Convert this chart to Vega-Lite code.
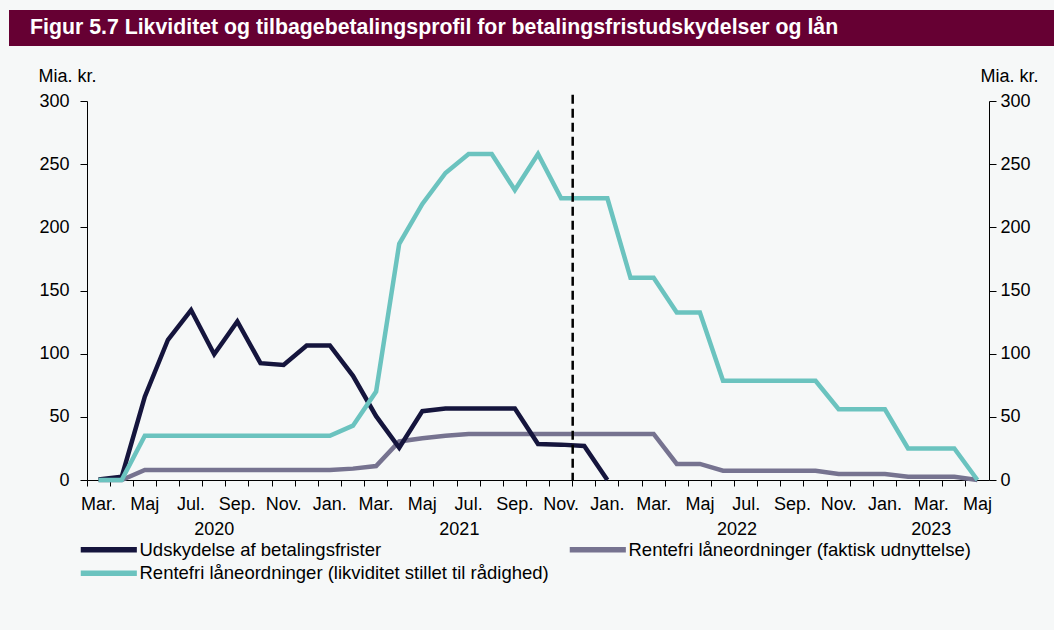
{
  "$schema": "https://vega.github.io/schema/vega-lite/v6.json",
  "background": "#f6f8f8",
  "padding": {"left": 9, "top": 10, "right": 0, "bottom": 45},
  "config": {
    "font": "Liberation Sans",
    "view": {"stroke": null}
  },
  "spacing": 21,
  "vconcat": [
    {
      "width": 1045,
      "height": 36,
      "view": {"fill": "#660033", "stroke": null},
      "data": {"values": [{"pos": 0, "label": "Figur 5.7 Likviditet og tilbagebetalingsprofil for betalingsfristudskydelser og lån"}]},
      "mark": {"type": "text", "align": "left", "baseline": "middle", "dx": 21, "fontSize": 21.3, "fontWeight": "bold", "color": "#ffffff"},
      "encoding": {
        "x": {"field": "pos", "type": "quantitative", "scale": {"domain": [0, 1]}, "axis": null},
        "text": {"field": "label"}
      }
    },
    {
      "spacing": 28,
      "hconcat": [
        {"width": 1, "height": 1, "data": {"values": []}, "mark": "point"},
        {
          "width": 902,
          "height": 379,
          "resolve": {"axis": {"x": "independent", "y": "independent"}},
          "layer": [
            {
              "data": {"values": [
                {"month":"2020-03","series":"Rentefri låneordninger (faktisk udnyttelse)","value":0},{"month":"2020-04","series":"Rentefri låneordninger (faktisk udnyttelse)","value":0},{"month":"2020-05","series":"Rentefri låneordninger (faktisk udnyttelse)","value":8},{"month":"2020-06","series":"Rentefri låneordninger (faktisk udnyttelse)","value":8},{"month":"2020-07","series":"Rentefri låneordninger (faktisk udnyttelse)","value":8},{"month":"2020-08","series":"Rentefri låneordninger (faktisk udnyttelse)","value":8},{"month":"2020-09","series":"Rentefri låneordninger (faktisk udnyttelse)","value":8},{"month":"2020-10","series":"Rentefri låneordninger (faktisk udnyttelse)","value":8},{"month":"2020-11","series":"Rentefri låneordninger (faktisk udnyttelse)","value":8},{"month":"2020-12","series":"Rentefri låneordninger (faktisk udnyttelse)","value":8},
                {"month":"2021-01","series":"Rentefri låneordninger (faktisk udnyttelse)","value":8},{"month":"2021-02","series":"Rentefri låneordninger (faktisk udnyttelse)","value":9},{"month":"2021-03","series":"Rentefri låneordninger (faktisk udnyttelse)","value":11},{"month":"2021-04","series":"Rentefri låneordninger (faktisk udnyttelse)","value":30.5},{"month":"2021-05","series":"Rentefri låneordninger (faktisk udnyttelse)","value":33},{"month":"2021-06","series":"Rentefri låneordninger (faktisk udnyttelse)","value":35},{"month":"2021-07","series":"Rentefri låneordninger (faktisk udnyttelse)","value":36.5},{"month":"2021-08","series":"Rentefri låneordninger (faktisk udnyttelse)","value":36.5},{"month":"2021-09","series":"Rentefri låneordninger (faktisk udnyttelse)","value":36.5},{"month":"2021-10","series":"Rentefri låneordninger (faktisk udnyttelse)","value":36.5},{"month":"2021-11","series":"Rentefri låneordninger (faktisk udnyttelse)","value":36.5},{"month":"2021-12","series":"Rentefri låneordninger (faktisk udnyttelse)","value":36.5},
                {"month":"2022-01","series":"Rentefri låneordninger (faktisk udnyttelse)","value":36.5},{"month":"2022-02","series":"Rentefri låneordninger (faktisk udnyttelse)","value":36.5},{"month":"2022-03","series":"Rentefri låneordninger (faktisk udnyttelse)","value":36.5},{"month":"2022-04","series":"Rentefri låneordninger (faktisk udnyttelse)","value":12.7},{"month":"2022-05","series":"Rentefri låneordninger (faktisk udnyttelse)","value":12.7},{"month":"2022-06","series":"Rentefri låneordninger (faktisk udnyttelse)","value":7.4},{"month":"2022-07","series":"Rentefri låneordninger (faktisk udnyttelse)","value":7.4},{"month":"2022-08","series":"Rentefri låneordninger (faktisk udnyttelse)","value":7.4},{"month":"2022-09","series":"Rentefri låneordninger (faktisk udnyttelse)","value":7.4},{"month":"2022-10","series":"Rentefri låneordninger (faktisk udnyttelse)","value":7.4},{"month":"2022-11","series":"Rentefri låneordninger (faktisk udnyttelse)","value":4.7},{"month":"2022-12","series":"Rentefri låneordninger (faktisk udnyttelse)","value":4.7},
                {"month":"2023-01","series":"Rentefri låneordninger (faktisk udnyttelse)","value":4.7},{"month":"2023-02","series":"Rentefri låneordninger (faktisk udnyttelse)","value":2.6},{"month":"2023-03","series":"Rentefri låneordninger (faktisk udnyttelse)","value":2.6},{"month":"2023-04","series":"Rentefri låneordninger (faktisk udnyttelse)","value":2.6},{"month":"2023-05","series":"Rentefri låneordninger (faktisk udnyttelse)","value":0},
                {"month":"2020-03","series":"Udskydelse af betalingsfrister","value":0.5},{"month":"2020-04","series":"Udskydelse af betalingsfrister","value":2.5},{"month":"2020-05","series":"Udskydelse af betalingsfrister","value":66},{"month":"2020-06","series":"Udskydelse af betalingsfrister","value":111},{"month":"2020-07","series":"Udskydelse af betalingsfrister","value":134.5},{"month":"2020-08","series":"Udskydelse af betalingsfrister","value":99.5},{"month":"2020-09","series":"Udskydelse af betalingsfrister","value":125.5},{"month":"2020-10","series":"Udskydelse af betalingsfrister","value":92.5},{"month":"2020-11","series":"Udskydelse af betalingsfrister","value":91},{"month":"2020-12","series":"Udskydelse af betalingsfrister","value":106.5},
                {"month":"2021-01","series":"Udskydelse af betalingsfrister","value":106.5},{"month":"2021-02","series":"Udskydelse af betalingsfrister","value":82.5},{"month":"2021-03","series":"Udskydelse af betalingsfrister","value":50.5},{"month":"2021-04","series":"Udskydelse af betalingsfrister","value":25.5},{"month":"2021-05","series":"Udskydelse af betalingsfrister","value":54.5},{"month":"2021-06","series":"Udskydelse af betalingsfrister","value":56.5},{"month":"2021-07","series":"Udskydelse af betalingsfrister","value":56.5},{"month":"2021-08","series":"Udskydelse af betalingsfrister","value":56.5},{"month":"2021-09","series":"Udskydelse af betalingsfrister","value":56.5},{"month":"2021-10","series":"Udskydelse af betalingsfrister","value":28.5},{"month":"2021-11","series":"Udskydelse af betalingsfrister","value":28},{"month":"2021-12","series":"Udskydelse af betalingsfrister","value":27},
                {"month":"2022-01","series":"Udskydelse af betalingsfrister","value":0},
                {"month":"2020-03","series":"Rentefri låneordninger (likviditet stillet til rådighed)","value":0},{"month":"2020-04","series":"Rentefri låneordninger (likviditet stillet til rådighed)","value":0},{"month":"2020-05","series":"Rentefri låneordninger (likviditet stillet til rådighed)","value":35},{"month":"2020-06","series":"Rentefri låneordninger (likviditet stillet til rådighed)","value":35},{"month":"2020-07","series":"Rentefri låneordninger (likviditet stillet til rådighed)","value":35},{"month":"2020-08","series":"Rentefri låneordninger (likviditet stillet til rådighed)","value":35},{"month":"2020-09","series":"Rentefri låneordninger (likviditet stillet til rådighed)","value":35},{"month":"2020-10","series":"Rentefri låneordninger (likviditet stillet til rådighed)","value":35},{"month":"2020-11","series":"Rentefri låneordninger (likviditet stillet til rådighed)","value":35},{"month":"2020-12","series":"Rentefri låneordninger (likviditet stillet til rådighed)","value":35},
                {"month":"2021-01","series":"Rentefri låneordninger (likviditet stillet til rådighed)","value":35},{"month":"2021-02","series":"Rentefri låneordninger (likviditet stillet til rådighed)","value":43},{"month":"2021-03","series":"Rentefri låneordninger (likviditet stillet til rådighed)","value":70},{"month":"2021-04","series":"Rentefri låneordninger (likviditet stillet til rådighed)","value":187},{"month":"2021-05","series":"Rentefri låneordninger (likviditet stillet til rådighed)","value":218.5},{"month":"2021-06","series":"Rentefri låneordninger (likviditet stillet til rådighed)","value":243},{"month":"2021-07","series":"Rentefri låneordninger (likviditet stillet til rådighed)","value":258},{"month":"2021-08","series":"Rentefri låneordninger (likviditet stillet til rådighed)","value":258},{"month":"2021-09","series":"Rentefri låneordninger (likviditet stillet til rådighed)","value":229.5},{"month":"2021-10","series":"Rentefri låneordninger (likviditet stillet til rådighed)","value":258},{"month":"2021-11","series":"Rentefri låneordninger (likviditet stillet til rådighed)","value":223},{"month":"2021-12","series":"Rentefri låneordninger (likviditet stillet til rådighed)","value":223},
                {"month":"2022-01","series":"Rentefri låneordninger (likviditet stillet til rådighed)","value":223},{"month":"2022-02","series":"Rentefri låneordninger (likviditet stillet til rådighed)","value":160},{"month":"2022-03","series":"Rentefri låneordninger (likviditet stillet til rådighed)","value":160},{"month":"2022-04","series":"Rentefri låneordninger (likviditet stillet til rådighed)","value":132.5},{"month":"2022-05","series":"Rentefri låneordninger (likviditet stillet til rådighed)","value":132.5},{"month":"2022-06","series":"Rentefri låneordninger (likviditet stillet til rådighed)","value":78.5},{"month":"2022-07","series":"Rentefri låneordninger (likviditet stillet til rådighed)","value":78.5},{"month":"2022-08","series":"Rentefri låneordninger (likviditet stillet til rådighed)","value":78.5},{"month":"2022-09","series":"Rentefri låneordninger (likviditet stillet til rådighed)","value":78.5},{"month":"2022-10","series":"Rentefri låneordninger (likviditet stillet til rådighed)","value":78.5},{"month":"2022-11","series":"Rentefri låneordninger (likviditet stillet til rådighed)","value":56},{"month":"2022-12","series":"Rentefri låneordninger (likviditet stillet til rådighed)","value":56},
                {"month":"2023-01","series":"Rentefri låneordninger (likviditet stillet til rådighed)","value":56},{"month":"2023-02","series":"Rentefri låneordninger (likviditet stillet til rådighed)","value":25},{"month":"2023-03","series":"Rentefri låneordninger (likviditet stillet til rådighed)","value":25},{"month":"2023-04","series":"Rentefri låneordninger (likviditet stillet til rådighed)","value":25},{"month":"2023-05","series":"Rentefri låneordninger (likviditet stillet til rådighed)","value":0}
              ]},
              "mark": {"type": "line", "strokeWidth": 4.5},
              "encoding": {
                "x": {
                  "field": "month", "type": "ordinal", "bandPosition": 0.5,
                  "scale": {"type": "band", "paddingInner": 0, "paddingOuter": 0,
                    "domain": ["2020-03","2020-04","2020-05","2020-06","2020-07","2020-08","2020-09","2020-10","2020-11","2020-12","2021-01","2021-02","2021-03","2021-04","2021-05","2021-06","2021-07","2021-08","2021-09","2021-10","2021-11","2021-12","2022-01","2022-02","2022-03","2022-04","2022-05","2022-06","2022-07","2022-08","2022-09","2022-10","2022-11","2022-12","2023-01","2023-02","2023-03","2023-04","2023-05"]},
                  "axis": {
                    "orient": "bottom", "title": null, "bandPosition": 0, "labels": false, "grid": false,
                    "tickSize": 6, "tickColor": "#000000", "domainColor": "#000000"
                  }
                },
                "y": {
                  "field": "value", "type": "quantitative",
                  "scale": {"domain": [0, 300], "nice": false},
                  "axis": {
                    "orient": "left", "values": [0, 50, 100, 150, 200, 250, 300], "grid": false,
                    "domainColor": "#000000", "tickColor": "#000000", "tickSize": 7,
                    "labelFontSize": 18, "labelColor": "#000000", "labelPadding": 11,
                    "title": "Mia. kr.", "titleAngle": 0, "titleAlign": "left", "titleBaseline": "alphabetic",
                    "titleX": -49, "titleY": -20, "titleFontSize": 18, "titleFontWeight": "normal", "titleColor": "#000000"
                  }
                },
                "color": {
                  "field": "series", "type": "nominal",
                  "scale": {
                    "domain": ["Udskydelse af betalingsfrister", "Rentefri låneordninger (likviditet stillet til rådighed)", "Rentefri låneordninger (faktisk udnyttelse)"],
                    "range": ["#15153d", "#6bc3bf", "#767390"]
                  },
                  "legend": {
                    "title": null, "orient": "none", "legendX": 68, "legendY": 530, "columns": 2,
                    "symbolType": "M-1,0H9.2", "symbolSize": 121, "symbolStrokeWidth": 5.5,
                    "labelFontSize": 18.5, "labelColor": "#000000", "labelOffset": 44, "labelLimit": 600,
                    "columnPadding": 9, "rowPadding": 1, "padding": 0
                  }
                }
              }
            },
            {
              "data": {"values": [{"month": "2021-12", "top": 305, "bottom": 0}]},
              "mark": {"type": "rule", "color": "#000000", "strokeWidth": 2.5, "strokeDash": [9, 5], "clip": false},
              "encoding": {
                "x": {"field": "month", "type": "ordinal", "bandPosition": 0, "axis": null},
                "y": {"field": "top", "type": "quantitative", "axis": null},
                "y2": {"field": "bottom"}
              }
            },
            {
              "data": {"values": [{"month": "2020-08", "year": "2020"}, {"month": "2023-03", "year": "2023"}]},
              "mark": {"type": "text", "fontSize": 18, "dy": 50, "baseline": "middle", "color": "#000000"},
              "encoding": {
                "x": {
                  "field": "month", "type": "ordinal", "bandPosition": 0.5,
                  "axis": {
                    "orient": "bottom", "title": null, "labelAngle": 0, "labelOverlap": false, "ticks": false, "tickSize": 0, "domain": false, "grid": false,
                    "labelFontSize": 18, "labelColor": "#000000", "labelPadding": 15,
                    "labelExpr": "slice(datum.value,5)=='01' ? 'Jan.' : slice(datum.value,5)=='03' ? 'Mar.' : slice(datum.value,5)=='05' ? 'Maj' : slice(datum.value,5)=='07' ? 'Jul.' : slice(datum.value,5)=='09' ? 'Sep.' : slice(datum.value,5)=='11' ? 'Nov.' : ''"
                  }
                },
                "y": {
                  "datum": 0, "type": "quantitative",
                  "axis": {
                    "orient": "right", "values": [0, 50, 100, 150, 200, 250, 300], "grid": false,
                    "domainColor": "#000000", "tickColor": "#000000", "tickSize": 7,
                    "labelFontSize": 18, "labelColor": "#000000", "labelPadding": 4,
                    "title": "Mia. kr.", "titleAngle": 0, "titleAlign": "left", "titleBaseline": "alphabetic",
                    "titleX": -9, "titleY": -20, "titleFontSize": 18, "titleFontWeight": "normal", "titleColor": "#000000"
                  }
                },
                "text": {"field": "year"}
              }
            },
            {
              "data": {"values": [{"month": "2021-07", "year": "2021"}, {"month": "2022-07", "year": "2022"}]},
              "mark": {"type": "text", "fontSize": 18, "dy": 50, "baseline": "middle", "color": "#000000"},
              "encoding": {
                "x": {"field": "month", "type": "ordinal", "bandPosition": 0.1, "axis": null},
                "y": {"datum": 0, "type": "quantitative", "axis": null},
                "text": {"field": "year"}
              }
            }
          ]
        }
      ]
    }
  ]
}
